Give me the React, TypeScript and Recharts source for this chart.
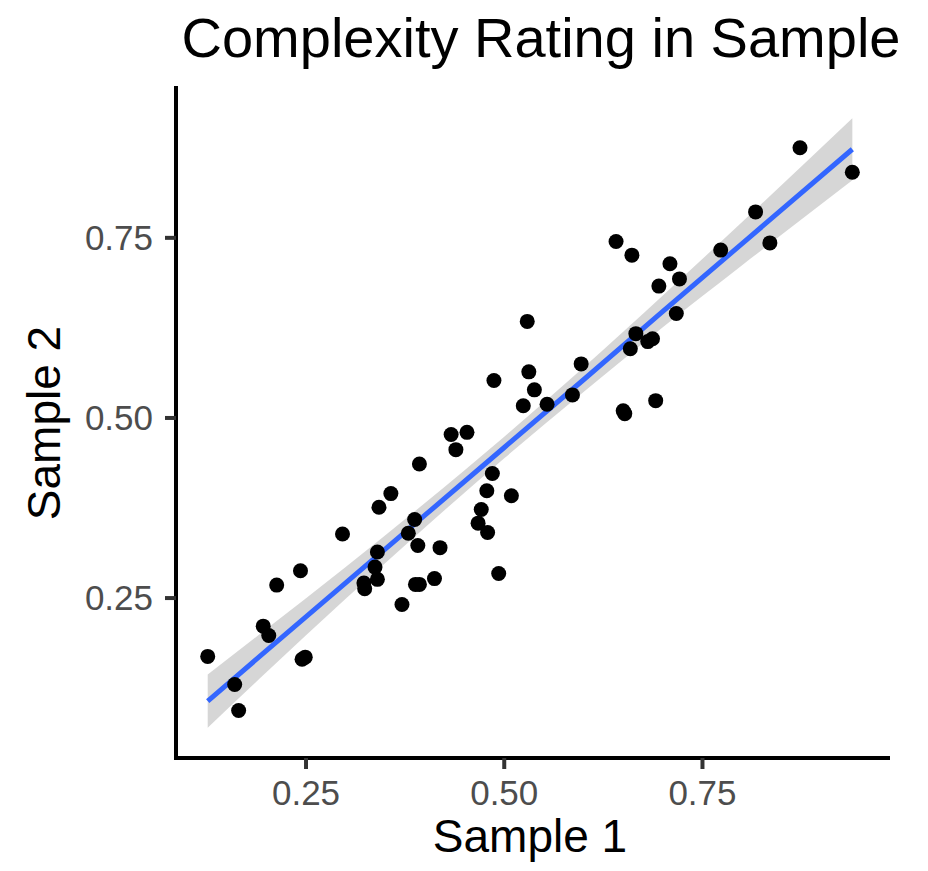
import { Area, ComposedChart, Line, Scatter, XAxis, YAxis } from "recharts";

// ratings
const sample1 = [
  0.126, 0.16, 0.165, 0.196, 0.203, 0.213, 0.243, 0.245, 0.249, 0.296,
  0.323, 0.324, 0.34, 0.337, 0.34, 0.342, 0.357, 0.371, 0.379, 0.387,
  0.388, 0.393, 0.391, 0.393, 0.412, 0.419, 0.433, 0.439, 0.453, 0.467,
  0.471, 0.479, 0.478, 0.485, 0.493, 0.509, 0.487, 0.524, 0.529, 0.531,
  0.538, 0.554, 0.586, 0.597, 0.65, 0.652, 0.691, 0.659, 0.666, 0.681,
  0.687, 0.695, 0.717, 0.721, 0.709, 0.641, 0.661, 0.773, 0.817, 0.835,
  0.873, 0.939,
];
const sample2 = [
  0.169, 0.13, 0.094, 0.211, 0.198, 0.268, 0.288, 0.165, 0.168, 0.339,
  0.271, 0.263, 0.314, 0.293, 0.276, 0.376, 0.395, 0.241, 0.34, 0.359,
  0.269, 0.269, 0.323, 0.436, 0.277, 0.32, 0.477, 0.456, 0.48, 0.354,
  0.373, 0.341, 0.399, 0.423, 0.284, 0.392, 0.552, 0.517, 0.634, 0.564,
  0.539, 0.519, 0.532, 0.575, 0.51, 0.506, 0.524, 0.596, 0.617, 0.606,
  0.61, 0.683, 0.645, 0.693, 0.714, 0.745, 0.726, 0.733, 0.786, 0.743,
  0.875, 0.841,
];

// linear fit and its confidence band
const fitX = [0.126, 0.2, 0.3, 0.4, 0.5, 0.6, 0.7, 0.8, 0.939];
const fitY = [0.107, 0.177, 0.271, 0.365, 0.459, 0.553, 0.648, 0.742, 0.873];
const bandLow = [0.07, 0.147, 0.249, 0.348, 0.444, 0.536, 0.626, 0.712, 0.83];
const bandHigh = [0.144, 0.207, 0.293, 0.382, 0.474, 0.57, 0.67, 0.772, 0.916];

const ticks = [0.25, 0.5, 0.75];

const points = sample1.map((x, i) => ({ x, y: sample2[i] }));
const bandData = fitX.map((x, i) => ({
  x,
  fit: fitY[i],
  band: [bandLow[i], bandHigh[i]],
}));

const font = "'Liberation Sans', Arial, Helvetica, sans-serif";
const tickStyle = { fill: "#4d4d4d", fontSize: 35, fontFamily: font };
const axisLine = { stroke: "#000", strokeWidth: 4, strokeLinecap: "square" as const };
const tickLine = { stroke: "#333", strokeWidth: 4 };

export default function App() {
  return (
    <div style={{ position: "absolute", left: 0, top: 0, width: 928, height: 871, background: "#fff" }}>
      <ComposedChart
        width={928}
        height={871}
        data={bandData}
        margin={{ top: 88, right: 40, bottom: 53, left: 76 }}
      >
        <XAxis
          dataKey="x"
          type="number"
          domain={[0.086, 0.984]}
          allowDataOverflow
          ticks={ticks}
          tickFormatter={(v: number) => v.toFixed(2)}
          tick={tickStyle}
          tickSize={11}
          tickMargin={11}
          axisLine={axisLine}
          tickLine={tickLine}
          height={60}
        />
        <YAxis
          type="number"
          domain={[0.028, 0.958]}
          allowDataOverflow
          ticks={ticks}
          tickFormatter={(v: number) => v.toFixed(2)}
          tick={tickStyle}
          tickSize={11}
          tickMargin={12}
          axisLine={axisLine}
          tickLine={tickLine}
          width={100}
        />
        <Scatter
          data={points}
          dataKey="y"
          fill="#000"
          shape={(p: any) => <circle cx={p.cx} cy={p.cy} r={7.5} fill="#000" />}
          isAnimationActive={false}
        />
        <Area
          dataKey="band"
          type="monotone"
          stroke="none"
          fill="#999999"
          fillOpacity={0.4}
          isAnimationActive={false}
        />
        <Line
          dataKey="fit"
          type="linear"
          stroke="#3366FF"
          strokeWidth={5}
          dot={false}
          isAnimationActive={false}
        />
      </ComposedChart>
      <svg
        width={928}
        height={871}
        style={{ position: "absolute", left: 0, top: 0, pointerEvents: "none" }}
      >
        <text x={541} y={57} textAnchor="middle" fontSize={56} fontFamily={font} fill="#000">
          Complexity Rating in Sample
        </text>
        <text x={530} y={852} textAnchor="middle" fontSize={46} fontFamily={font} fill="#000">
          Sample 1
        </text>
        <text
          x={60}
          y={423}
          transform="rotate(-90, 60, 423)"
          textAnchor="middle"
          fontSize={46}
          fontFamily={font}
          fill="#000"
        >
          Sample 2
        </text>
      </svg>
    </div>
  );
}
